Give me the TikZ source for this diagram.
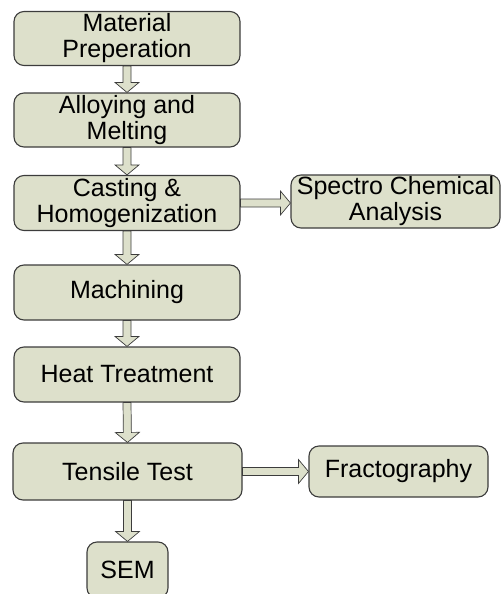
\documentclass[tikz,border=0pt]{standalone}
\usepackage{fontspec}
\setmainfont{Liberation Sans}
\usetikzlibrary{calc}
\definecolor{boxfill}{RGB}{221,224,203}
\definecolor{edgegray}{RGB}{60,60,60}

\begin{document}
\begin{tikzpicture}[x=1pt, y=-1pt,
    stage/.style={draw=edgegray, line width=1.1pt, fill=boxfill, rounded corners=10pt,
      align=center, inner sep=0pt, minimum width=226pt, minimum height=54pt,
      font=\fontsize{25}{26}\selectfont},
    flow/.style={draw=edgegray, line width=0.7pt, fill=boxfill,
      to path={let \p1=($(\tikztotarget)!10pt!(\tikztostart)$) in
        ($(\tikztostart)!4pt!90:(\tikztotarget)$) -- ($(\p1)!4pt!-90:(\tikztostart)$)
        -- ($(\p1)!12pt!-90:(\tikztostart)$) -- (\tikztotarget)
        -- ($(\p1)!12pt!90:(\tikztostart)$) -- ($(\p1)!4pt!90:(\tikztostart)$)
        -- ($(\tikztostart)!4pt!-90:(\tikztotarget)$) -- cycle}}]

      \clip (0,0) rectangle (503,594);

      \node[stage] (prep) at (127,38.5) {Material\\Preperation};
      \node[stage] (alloy) at (127,120) {Alloying and\\Melting};
      \node[stage, minimum height=55pt] (cast) at (127,203) {Casting \&\\Homogenization};
      \node[stage, minimum width=209pt, minimum height=53pt] (spectro) at (395.5,201.5) {Spectro Chemical\\Analysis};
      \node[stage, minimum height=55pt] (mach) at (127,292.5) {Machining};
      \node[stage, minimum height=55pt] (heat) at (127,374.5) {Heat Treatment};
      \node[stage, minimum width=229pt, minimum height=57pt] (tensile) at (127.5,471.5) {Tensile Test};
      \node[stage, minimum width=179pt, minimum height=51pt] (frac) at (398.5,471.5) {Fractography};
      \node[stage, minimum width=81pt, minimum height=56pt] (sem) at (127.5,570) {SEM};

      \draw[flow] (prep.south) to (alloy.north);
      \draw[flow] (alloy.south) to (cast.north);
      \draw[flow] (cast.south) to (mach.north);
      \draw[flow] (mach.south) to (heat.north);
      \draw[flow] (heat.south) to (tensile.north);
      \draw[flow] (tensile.south) to (sem.north);
      \draw[flow] (cast.east) to (cast.east -| spectro.west);
      \draw[flow] (tensile.east) to (frac.west);

    \end{tikzpicture}
\end{document}
